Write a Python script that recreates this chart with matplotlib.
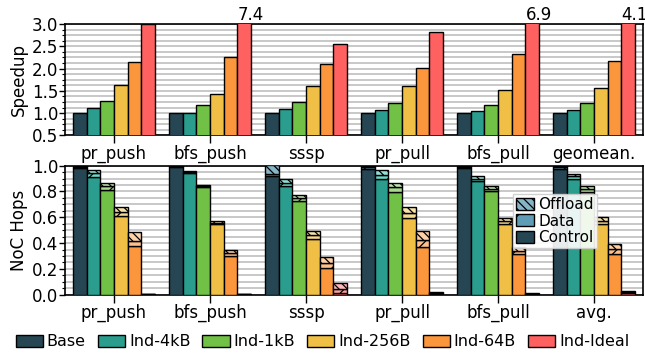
import colorsys
import matplotlib
matplotlib.use("Agg")
import matplotlib.pyplot as plt
from matplotlib.patches import Patch
from matplotlib.ticker import MultipleLocator, FormatStrFormatter
from matplotlib.colors import to_rgb

configs = ["Base", "Ind-4kB", "Ind-1kB", "Ind-256B", "Ind-64B", "Ind-Ideal"]
config_colors = ["#264653", "#2a9d8f", "#70c146", "#efbf46", "#fb963c", "#ff6161"]

speedup_workloads = ["pr_push", "bfs_push", "sssp", "pr_pull", "bfs_pull", "geomean."]
hops_workloads = ["pr_push", "bfs_push", "sssp", "pr_pull", "bfs_pull", "avg."]

# speedup per configuration (one value per workload)
speedup_base = [1.00, 1.00, 1.00, 1.00, 1.00, 1.00]
speedup_4kb = [1.12, 1.01, 1.10, 1.07, 1.05, 1.07]
speedup_1kb = [1.27, 1.18, 1.26, 1.22, 1.19, 1.22]
speedup_256b = [1.63, 1.43, 1.61, 1.61, 1.52, 1.56]
speedup_64b = [2.15, 2.25, 2.10, 2.02, 2.33, 2.17]
speedup_ideal = [3.00, 7.4, 2.56, 2.82, 6.9, 4.1]
speedup = [speedup_base, speedup_4kb, speedup_1kb, speedup_256b, speedup_64b, speedup_ideal]

# normalized NoC hops, split by traffic class (rows: configs, cols: workloads)
hops_control = [
    [0.985, 0.990, 0.917, 0.975, 0.980, 0.975],
    [0.915, 0.947, 0.840, 0.894, 0.881, 0.897],
    [0.810, 0.838, 0.724, 0.793, 0.804, 0.793],
    [0.607, 0.548, 0.429, 0.597, 0.548, 0.545],
    [0.375, 0.303, 0.210, 0.367, 0.313, 0.313],
    [0.003, 0.002, 0.012, 0.008, 0.005, 0.010],
]
hops_data = [
    [0.008, 0.005, 0.020, 0.012, 0.010, 0.012],
    [0.025, 0.005, 0.025, 0.035, 0.018, 0.020],
    [0.030, 0.005, 0.025, 0.040, 0.018, 0.023],
    [0.035, 0.010, 0.030, 0.040, 0.022, 0.027],
    [0.040, 0.020, 0.035, 0.057, 0.029, 0.040],
    [0.002, 0.001, 0.030, 0.006, 0.004, 0.008],
]
hops_offload = [
    [0.007, 0.005, 0.070, 0.013, 0.010, 0.013],
    [0.028, 0.004, 0.029, 0.037, 0.018, 0.021],
    [0.028, 0.004, 0.026, 0.035, 0.018, 0.024],
    [0.040, 0.010, 0.035, 0.045, 0.022, 0.028],
    [0.068, 0.023, 0.047, 0.067, 0.030, 0.042],
    [0.003, 0.002, 0.050, 0.007, 0.004, 0.010],
]


def lighten(color, amount):
    r, g, b = to_rgb(color)
    h, l, s = colorsys.rgb_to_hls(r, g, b)
    return colorsys.hls_to_rgb(h, l + (1 - l) * amount, s)


plt.rcParams.update({
    "font.family": ["DejaVu Sans"],
    "font.size": 12,
    "hatch.linewidth": 0.9,
    "axes.linewidth": 1.2,
})

fig = plt.figure(figsize=(6.45, 3.56), dpi=100)
ax1 = fig.add_axes([0.1008, 0.6194, 0.8961, 0.3132])
ax2 = fig.add_axes([0.1008, 0.1722, 0.8961, 0.3624])

n = len(configs)
width = 1.0 / 7
x = list(range(len(speedup_workloads)))
offsets = [(i - (n - 1) / 2) * width for i in range(n)]

ymax_top = 3.0
for i, (cfg, col) in enumerate(zip(configs, config_colors)):
    xs = [xi + offsets[i] for xi in x]
    ax1.bar(xs, speedup[i], width=width, color=col, edgecolor="black",
            linewidth=1.0, zorder=3, label=cfg)
    for xv, v in zip(xs, speedup[i]):
        if v > ymax_top:
            ax1.text(xv - width / 2, ymax_top, f"{v:.1f}", ha="left", va="bottom",
                     fontsize=12, clip_on=False)

for i, col in enumerate(config_colors):
    xs = [xi + offsets[i] for xi in x]
    ctrl = hops_control[i]
    dat = hops_data[i]
    off = hops_offload[i]
    ax2.bar(xs, ctrl, width=width, color=col, edgecolor="black", linewidth=1.0, zorder=3)
    ax2.bar(xs, dat, width=width, bottom=ctrl, color=lighten(col, 0.4),
            edgecolor="black", linewidth=1.0, hatch="/", zorder=3)
    ax2.bar(xs, off, width=width, bottom=[c + d for c, d in zip(ctrl, dat)],
            color=lighten(col, 0.55), edgecolor="black", linewidth=1.0,
            hatch="\\\\\\\\", zorder=3)

for ax, labels in ((ax1, speedup_workloads), (ax2, hops_workloads)):
    ax.set_xlim(-0.51, len(labels) - 0.49)
    ax.set_xticks(x)
    ax.set_xticklabels(labels)
    ax.tick_params(axis="x", direction="out", length=5.5, width=1.0, pad=1)
    ax.tick_params(axis="y", which="major", direction="out", length=4, width=1.0, pad=1)
    ax.tick_params(axis="y", which="minor", direction="out", length=2.5, width=0.8)
    ax.yaxis.grid(True, which="both", color="#c4c4c4", linewidth=1.3, zorder=0)
    ax.set_axisbelow(True)

ax1.set_ylim(0.5, ymax_top)
ax1.yaxis.set_major_locator(MultipleLocator(0.5))
ax1.yaxis.set_minor_locator(MultipleLocator(0.125))
ax1.yaxis.set_major_formatter(FormatStrFormatter("%.1f"))
ax1.set_ylabel("Speedup", labelpad=3)

ax2.set_ylim(0.0, 1.0)
ax2.yaxis.set_major_locator(MultipleLocator(0.2))
ax2.yaxis.set_minor_locator(MultipleLocator(0.05))
ax2.yaxis.set_major_formatter(FormatStrFormatter("%.1f"))
ax2.set_ylabel("NoC Hops", labelpad=3)

base_col = config_colors[0]
class_handles = [
    Patch(facecolor=lighten(base_col, 0.55), edgecolor="black", hatch="\\\\\\\\", label="Offload"),
    Patch(facecolor=lighten(base_col, 0.4), edgecolor="black", hatch="/", label="Data"),
    Patch(facecolor=base_col, edgecolor="black", label="Control"),
]
ax2.legend(handles=class_handles, loc="upper left", bbox_to_anchor=(0.775, 0.78),
           fontsize=11, handlelength=1.2, handleheight=0.8, handletextpad=0.25,
           labelspacing=0.1, borderpad=0.2, borderaxespad=0.0, framealpha=0.9,
           fancybox=False, edgecolor="#cccccc")

cfg_handles = [Patch(facecolor=c, edgecolor="black", label=l)
               for l, c in zip(configs, config_colors)]
fig.legend(handles=cfg_handles, loc="center", bbox_to_anchor=(0.5, 0.04), ncol=6,
           frameon=False, fontsize=11.5, handlelength=1.7, handleheight=0.8,
           handletextpad=0.25, columnspacing=0.75, borderpad=0.0)

fig.savefig("out.png", dpi=100)
